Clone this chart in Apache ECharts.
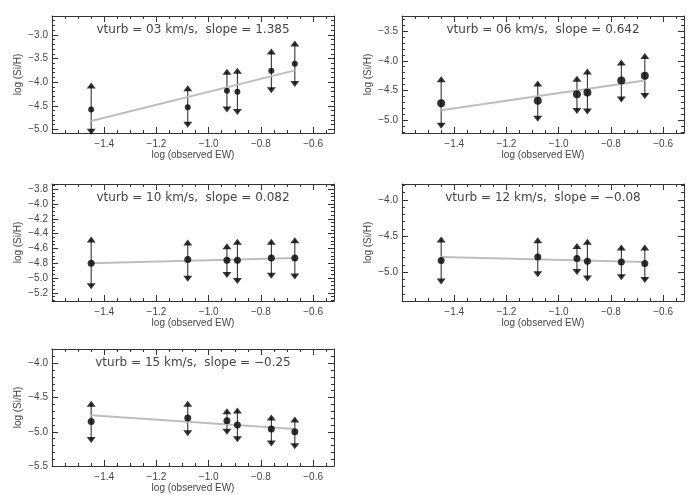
<!DOCTYPE html>
<html>
<head>
<meta charset="utf-8">
<script src="https://cdn.jsdelivr.net/npm/echarts@6/dist/echarts.min.js"></script>
<style>html,body{margin:0;padding:0;background:#fff}#c{width:700px;height:500px}</style>
</head>
<body>
<div id="c"></div>
<script>
// ---- data ----
const xObs = [-1.45, -1.08, -0.93, -0.89, -0.76, -0.67];
const xFitEnds = [-1.45, -0.67];
const xRange = [-1.60, -0.52];
const xMajor = [-1.4, -1.2, -1.0, -0.8, -0.6];

const titles = [
  'vturb = 03 km/s,  slope = 1.385',
  'vturb = 06 km/s,  slope = 0.642',
  'vturb = 10 km/s,  slope = 0.082',
  'vturb = 12 km/s,  slope = \u22120.08',
  'vturb = 15 km/s,  slope = \u22120.25'
];

const p1Val = [-4.58, -4.53, -4.18, -4.20, -3.76, -3.61];
const p1Up  = [-4.07, -4.13, -3.78, -3.76, -3.35, -3.18];
const p1Low = [-5.05, -4.90, -4.58, -4.63, -4.17, -4.04];
const p1Fit = [-4.82, -3.75];
const p1Range = [-5.075, -2.60];
const p1Ticks = [-5.0, -4.5, -4.0, -3.5, -3.0];

const p2Val = [-4.71, -4.67, -4.56, -4.53, -4.33, -4.25];
const p2Up  = [-4.31, -4.38, -4.30, -4.18, -4.03, -3.92];
const p2Low = [-5.09, -4.97, -4.84, -4.85, -4.65, -4.59];
const p2Fit = [-4.83, -4.33];
const p2Range = [-5.21, -3.25];
const p2Ticks = [-5.0, -4.5, -4.0, -3.5];

const p3Val = [-4.80, -4.75, -4.76, -4.76, -4.73, -4.73];
const p3Up  = [-4.48, -4.52, -4.57, -4.51, -4.51, -4.49];
const p3Low = [-5.11, -5.01, -4.96, -5.04, -4.97, -4.98];
const p3Fit = [-4.80, -4.73];
const p3Range = [-5.31, -3.73];
const p3Ticks = [-5.2, -5.0, -4.8, -4.6, -4.4, -4.2, -4.0, -3.8];

const p4Val = [-4.84, -4.79, -4.81, -4.85, -4.86, -4.88];
const p4Up  = [-4.55, -4.56, -4.64, -4.58, -4.66, -4.66];
const p4Low = [-5.13, -5.03, -5.00, -5.09, -5.07, -5.11];
const p4Fit = [-4.79, -4.86];
const p4Range = [-5.40, -3.78];
const p4Ticks = [-5.0, -4.5, -4.0];

const p5Val = [-4.85, -4.80, -4.84, -4.90, -4.96, -5.00];
const p5Up  = [-4.59, -4.59, -4.70, -4.69, -4.79, -4.82];
const p5Low = [-5.12, -5.02, -5.00, -5.11, -5.17, -5.21];
const p5Fit = [-4.76, -4.96];
const p5Range = [-5.50, -3.79];
const p5Ticks = [-5.5, -5.0, -4.5, -4.0];

// ---- layout ----
const panels = [
  {val:p1Val, up:p1Up, low:p1Low, fit:p1Fit, range:p1Range, ticks:p1Ticks, minorStep:0.1,  left:52,  top:16,  dot:6},
  {val:p2Val, up:p2Up, low:p2Low, fit:p2Fit, range:p2Range, ticks:p2Ticks, minorStep:0.1,  left:402, top:16,  dot:8},
  {val:p3Val, up:p3Up, low:p3Low, fit:p3Fit, range:p3Range, ticks:p3Ticks, minorStep:0.05, left:52,  top:184, dot:7},
  {val:p4Val, up:p4Up, low:p4Low, fit:p4Fit, range:p4Range, ticks:p4Ticks, minorStep:0.1,  left:402, top:184, dot:7},
  {val:p5Val, up:p5Up, low:p5Low, fit:p5Fit, range:p5Range, ticks:p5Ticks, minorStep:0.1,  left:52,  top:349, dot:7}
];
const W = 282, H = 117;
const FONT = 'Liberation Sans';
const TFONT = 'DejaVu Sans';
const AX = '#333', TXT = '#444';

function minorList(lo, hi, step) {
  const out = [];
  const start = Math.ceil(lo / step - 1e-9);
  for (let k = start; k * step <= hi + 1e-9; k++) out.push(+(k * step).toFixed(3));
  return out;
}
const fmt = v => (v < 0 ? '\u2212' : '') + Math.abs(v).toFixed(1);

const grids = [], xAxes = [], yAxes = [], series = [], graphics = [];

panels.forEach((p, i) => {
  grids.push({left: p.left, top: p.top, width: W, height: H, show: false});
  const xMinor = minorList(xRange[0], xRange[1], 0.05);
  const yMinor = minorList(p.range[0], p.range[1], p.minorStep);
  const base = {gridIndex: i, type: 'value', splitLine: {show: false}, scale: true};
  const xb = Object.assign({}, base, {min: xRange[0], max: xRange[1]});
  xAxes.push(Object.assign({}, xb, {
    position: 'bottom',
    name: 'log (observed EW)', nameLocation: 'middle', nameGap: 15,
    nameTextStyle: {fontFamily: FONT, fontSize: 10, color: TXT},
    axisLine: {show: true, onZero: false, lineStyle: {color: AX, width: 1}},
    axisTick: {show: true, inside: true, length: 6, customValues: xMajor, lineStyle: {color: AX}},
    axisLabel: {show: true, customValues: xMajor, formatter: fmt, margin: 6, fontFamily: FONT, fontSize: 10, color: TXT}
  }));
  xAxes.push(Object.assign({}, xb, {
    position: 'bottom',
    axisLine: {show: false, onZero: false},
    axisTick: {show: true, inside: true, length: 3, customValues: xMinor, lineStyle: {color: AX}},
    axisLabel: {show: false}
  }));
  xAxes.push(Object.assign({}, xb, {
    position: 'top',
    axisLine: {show: true, onZero: false, lineStyle: {color: AX, width: 1}},
    axisTick: {show: true, inside: true, length: 6, customValues: xMajor, lineStyle: {color: AX}},
    axisLabel: {show: false}
  }));
  xAxes.push(Object.assign({}, xb, {
    position: 'top',
    axisLine: {show: false, onZero: false},
    axisTick: {show: true, inside: true, length: 3, customValues: xMinor, lineStyle: {color: AX}},
    axisLabel: {show: false}
  }));
  const yb = Object.assign({}, base, {min: p.range[0], max: p.range[1]});
  yAxes.push(Object.assign({}, yb, {
    position: 'left',
    name: 'log (Si/H)', nameLocation: 'middle', nameGap: 29, nameRotate: 90,
    nameTextStyle: {fontFamily: FONT, fontSize: 10, color: TXT},
    axisLine: {show: true, onZero: false, lineStyle: {color: AX, width: 1}},
    axisTick: {show: true, inside: true, length: 6, customValues: p.ticks, lineStyle: {color: AX}},
    axisLabel: {show: true, customValues: p.ticks, formatter: fmt, margin: 4, fontFamily: FONT, fontSize: 10, color: TXT}
  }));
  yAxes.push(Object.assign({}, yb, {
    position: 'left',
    axisLine: {show: false, onZero: false},
    axisTick: {show: true, inside: true, length: 3, customValues: yMinor, lineStyle: {color: AX}},
    axisLabel: {show: false}
  }));
  yAxes.push(Object.assign({}, yb, {
    position: 'right',
    axisLine: {show: true, onZero: false, lineStyle: {color: AX, width: 1}},
    axisTick: {show: true, inside: true, length: 6, customValues: p.ticks, lineStyle: {color: AX}},
    axisLabel: {show: false}
  }));
  yAxes.push(Object.assign({}, yb, {
    position: 'right',
    axisLine: {show: false, onZero: false},
    axisTick: {show: true, inside: true, length: 3, customValues: yMinor, lineStyle: {color: AX}},
    axisLabel: {show: false}
  }));

  const xi = 4 * i, yi = 4 * i;
  const errData = xObs.map((x, k) => [x, p.low[k], p.up[k]]);
  series.push({
    type: 'custom', xAxisIndex: xi, yAxisIndex: yi, z: 2, silent: true,
    data: errData,
    encode: {x: 0, y: [1, 2]},
    renderItem: (params, api) => {
      const a = api.coord([api.value(0), api.value(1)]);
      const b = api.coord([api.value(0), api.value(2)]);
      return {type: 'line', shape: {x1: a[0], y1: a[1], x2: b[0], y2: b[1]},
              style: {stroke: '#222', lineWidth: 1}};
    }
  });
  series.push({
    type: 'line', xAxisIndex: xi, yAxisIndex: yi, z: 3, silent: true,
    data: xFitEnds.map((x, k) => [x, p.fit[k]]),
    showSymbol: false, symbol: 'none',
    lineStyle: {color: '#bdbdbd', width: 2}
  });
  series.push({
    type: 'scatter', xAxisIndex: xi, yAxisIndex: yi, z: 4, silent: true,
    data: xObs.map((x, k) => [x, p.val[k]]),
    symbol: 'circle', symbolSize: p.dot, itemStyle: {color: '#000'}
  });
  series.push({
    type: 'scatter', xAxisIndex: xi, yAxisIndex: yi, z: 4, silent: true,
    data: xObs.map((x, k) => [x, p.up[k]]),
    symbol: 'triangle', symbolSize: [9, 6], itemStyle: {color: '#000'}
  });
  series.push({
    type: 'scatter', xAxisIndex: xi, yAxisIndex: yi, z: 4, silent: true,
    data: xObs.map((x, k) => [x, p.low[k]]),
    symbol: 'triangle', symbolRotate: 180, symbolSize: [9, 6], itemStyle: {color: '#000'}
  });
  graphics.push({
    type: 'text', x: p.left + W / 2, y: p.top + 14,
    style: {text: titles[i], align: 'center', verticalAlign: 'middle',
            font: '12px "' + TFONT + '"', fill: TXT}
  });
});

const chart = echarts.init(document.getElementById('c'), null, {renderer: 'canvas'});
chart.setOption({
  animation: false,
  grid: grids, xAxis: xAxes, yAxis: yAxes, series: series, graphic: graphics
});
</script>
</body>
</html>
